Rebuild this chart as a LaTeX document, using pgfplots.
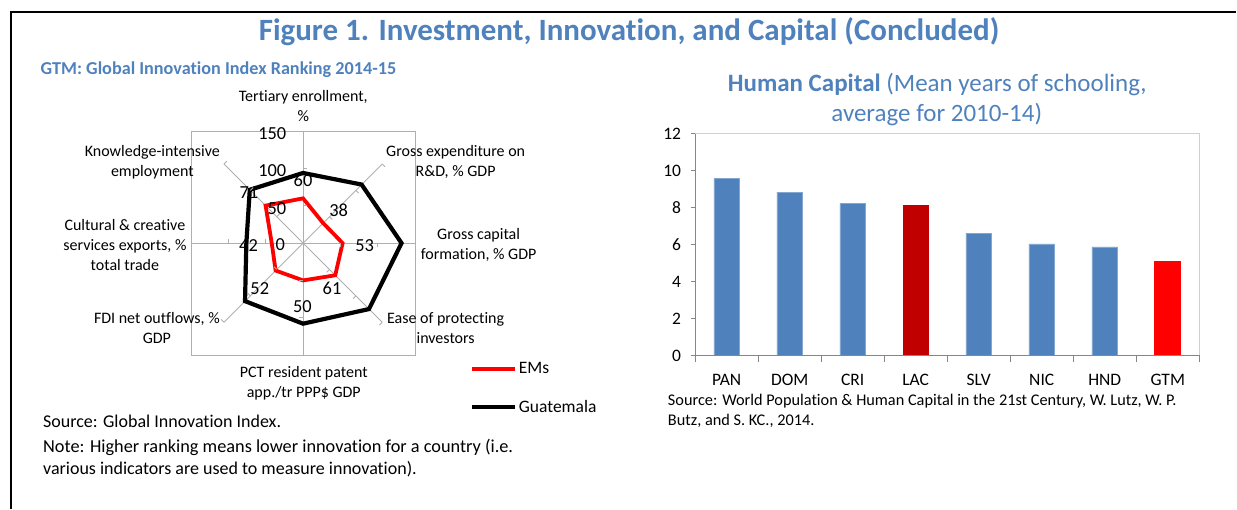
\documentclass[border=0pt]{standalone}
\usepackage{fontspec}
\setmainfont{Carlito}[Ligatures=NoCommon]
\usepackage{pgfplots}
\pgfplotsset{compat=1.18}
\definecolor{tblue}{HTML}{4F81BD}
\definecolor{barblue}{HTML}{4F81BD}
\definecolor{lacred}{HTML}{C00000}
\definecolor{gtmred}{HTML}{FF0000}
\definecolor{spoke}{HTML}{AFAFAF}
\definecolor{axgray}{HTML}{868686}
\definecolor{lightframe}{HTML}{D0D0D0}
\newcommand{\fs}[2]{\fontsize{#1}{#2}\selectfont}
\begin{document}
\begin{tikzpicture}
\path (0pt,0pt) rectangle (1237pt,-509pt);
\draw[line width=2pt] (1237pt,-12pt) -- (11pt,-12pt) -- (11pt,-509pt);

% ---------------- radar chart ----------------
\begin{axis}[at={(303.3pt,-243.3pt)}, anchor=center, scale only axis,
  width=224pt, height=224pt,
  xmin=-150, xmax=150, ymin=-150, ymax=150, xtick=\empty, ytick=\empty,
  axis line style={draw=spoke, line width=0.9pt}, clip=false,
  legend style={draw=none, fill=none, at={(1.244,-0.024)}, anchor=north west,
    font=\fs{17.5}{21}, row sep=21pt, inner sep=0pt, cells={anchor=west}},
  legend image code/.code={\draw[#1] (0pt,0pt) -- (43pt,0pt);},
]
\draw[spoke, line width=0.9pt] (axis cs:0,-150) -- (axis cs:0,150);
\draw[spoke, line width=0.9pt] (axis cs:-150,0) -- (axis cs:150,0);
\draw[spoke, line width=0.9pt] (axis cs:-106.07,-106.07) -- (axis cs:106.07,106.07);
\draw[spoke, line width=0.9pt] (axis cs:-106.07,106.07) -- (axis cs:106.07,-106.07);
\addplot[gtmred, line width=3.8pt, line join=miter, data cs=polar] coordinates
  {(90,60) (45,38) (0,53) (-45,61) (-90,50) (-135,52) (180,42) (135,71) (90,60) (45,38)};
\addplot[black, line width=4.2pt, line join=miter, data cs=polar] coordinates
  {(90,94) (45,111) (0,132) (-45,125) (-90,108) (-135,110) (180,76) (135,101) (90,94) (45,111)};
\legend{EMs, Guatemala}
\addplot[draw=none, mark=none, nodes near coords, point meta=explicit symbolic,
  nodes near coords style={anchor=center, inner sep=0pt, font=\fs{18.4}{22}, text=black}]
  coordinates {(0,84)[60] (47.8,44.2)[38] (82.6,-3.6)[53] (38.8,-60.3)[61]
               (-0.8,-84.9)[50] (-58,-61.6)[52] (-73.1,-3.6)[42] (-72.7,67.8)[71]};
\node[anchor=east, inner sep=0pt, font=\fs{18.4}{22}] at (axis cs:-22.2,146.5) {150};
\node[anchor=east, inner sep=0pt, font=\fs{18.4}{22}] at (axis cs:-22.2,97.5) {100};
\node[anchor=east, inner sep=0pt, font=\fs{18.4}{22}] at (axis cs:-22.2,46.5) {50};
\node[anchor=east, inner sep=0pt, font=\fs{18.4}{22}] at (axis cs:-24,-2.3) {0};
\end{axis}
\begin{scope}[shift={(303.3pt,-243.3pt)}]
\foreach \a in {0,45,...,315}{\foreach \r in {37.33,74.67,112}{
  \draw[spoke, line width=0.9pt] (\a:\r pt) -- ++(\a-90:4pt);}}
\end{scope}

% ---------------- bar chart ----------------
\begin{axis}[at={(695.7pt,-355.7pt)}, anchor=south west, scale only axis,
  width=504.5pt, height=222pt,
  xmin=-0.5, xmax=7.5, ymin=0, ymax=12, ytick={0,2,...,12},
  xtick={0,...,7}, xticklabels={PAN,DOM,CRI,LAC,SLV,NIC,HND,GTM},
  xtick style={draw=none}, ytick style={draw=axgray, line width=0.9pt},
  tick pos=left, tick align=outside, major tick length=4pt,
  axis line style={draw=lightframe, line width=0.9pt},
  ticklabel style={font=\fs{17.5}{21}},
  /pgf/number format/assume math mode=true,
  xticklabel style={yshift=-11.5pt},
  yticklabel style={xshift=-6.6pt},
  clip=false,
]
\addplot[ybar, bar width=25.5pt, bar shift=0pt, fill=barblue, draw=barblue!70!white, line width=0.6pt]
  coordinates {(0,9.57) (1,8.83) (2,8.23) (4,6.61) (5,6.03) (6,5.87)};
\addplot[ybar, bar width=26pt, bar shift=0pt, fill=lacred, draw=none]
  coordinates {(3,8.16)};
\addplot[ybar, bar width=26.5pt, bar shift=0pt, fill=gtmred, draw=none]
  coordinates {(7,5.13)};
\draw[axgray, line width=0.9pt] (rel axis cs:0,1) -- (rel axis cs:0,0) -- (rel axis cs:1,0);
\draw[axgray, line width=0.9pt] (axis cs:-0.5,0) -- ([yshift=-6.5pt]axis cs:-0.5,0);
\draw[axgray, line width=0.9pt] (axis cs:0.5,0) -- ([yshift=-6.5pt]axis cs:0.5,0);
\draw[axgray, line width=0.9pt] (axis cs:1.5,0) -- ([yshift=-6.5pt]axis cs:1.5,0);
\draw[axgray, line width=0.9pt] (axis cs:2.5,0) -- ([yshift=-6.5pt]axis cs:2.5,0);
\draw[axgray, line width=0.9pt] (axis cs:3.5,0) -- ([yshift=-6.5pt]axis cs:3.5,0);
\draw[axgray, line width=0.9pt] (axis cs:4.5,0) -- ([yshift=-6.5pt]axis cs:4.5,0);
\draw[axgray, line width=0.9pt] (axis cs:5.5,0) -- ([yshift=-6.5pt]axis cs:5.5,0);
\draw[axgray, line width=0.9pt] (axis cs:6.5,0) -- ([yshift=-6.5pt]axis cs:6.5,0);
\draw[axgray, line width=0.9pt] (axis cs:7.5,0) -- ([yshift=-6.5pt]axis cs:7.5,0);
\end{axis}

% ---------------- texts ----------------
\begin{scope}[x=1pt,y=-1pt]
\node[anchor=base, inner sep=0pt, text=tblue, font=\fs{31}{36}\bfseries] at (629.5,41)
  {Figure 1. Investment, Innovation, and Capital (Concluded)};
\node[anchor=base west, inner sep=0pt, text=tblue, font=\fs{18.2}{22}\bfseries] at (40.5,75)
  {GTM: Global Innovation Index Ranking 2014-15};
\node[anchor=base, inner sep=0pt, text=tblue, font=\fs{25}{30}] at (938,91.7)
  {\textbf{Human Capital} (Mean years of schooling,};
\node[anchor=base, inner sep=0pt, text=tblue, font=\fs{25}{30}] at (937.5,121.7)
  {average for 2010-14)};

\begin{scope}[every node/.style={inner sep=0pt, align=center, font=\fs{16}{20}}]
\node at (303.5,106) {Tertiary enrollment,\\\%};
\node at (152.5,162) {Knowledge-intensive\\employment};
\node at (125,245) {Cultural \& creative\\services exports, \%\\total trade};
\node at (157,328) {FDI net outflows, \%\\GDP};
\node at (304,383.5) {PCT resident patent\\app./tr PPP\$ GDP};
\node at (456,162) {Gross expenditure on\\R\&D, \% GDP};
\node at (479,245.5) {Gross capital\\formation, \% GDP};
\node at (446,328) {Ease of protecting\\investors};
\end{scope}

\node[anchor=base west, inner sep=0pt, font=\fs{18}{22}] at (43,428) {Source: Global Innovation Index.};
\node[anchor=base west, inner sep=0pt, font=\fs{18.3}{22}] at (43,453) {Note: Higher ranking means lower innovation for a country (i.e.};
\node[anchor=base west, inner sep=0pt, font=\fs{18}{22}] at (43,475) {various indicators are used to measure innovation).};

\node[anchor=base west, inner sep=0pt, font=\fs{16.3}{20}] at (668.3,405.7) {Source: World Population \& Human Capital in the 21st Century, W. Lutz, W. P.};
\node[anchor=base west, inner sep=0pt, font=\fs{16.3}{20}] at (668.3,426) {Butz, and S. KC., 2014.};
\end{scope}
\end{tikzpicture}
\end{document}
